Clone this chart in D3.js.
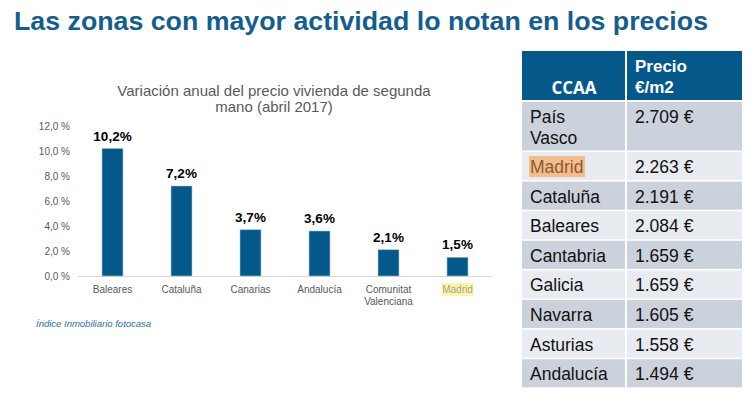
<!DOCTYPE html>
<html><head><meta charset="utf-8">
<script src="https://cdn.jsdelivr.net/npm/d3@7"></script>
<style>
html,body{margin:0;padding:0;background:#fff;}
svg{display:block;}
</style></head>
<body>
<svg id="c" width="749" height="395"></svg>
<script>
// ---- data ----
const title = "Las zonas con mayor actividad lo notan en los precios";
const chartTitle = ["Variación anual del precio vivienda de segunda", "mano (abril 2017)"];
const categories = ["Baleares", "Cataluña", "Canarias", "Andalucía", "Comunitat Valenciana", "Madrid"];
const values = [10.2, 7.2, 3.7, 3.6, 2.1, 1.5];
const yTicks = [0, 2, 4, 6, 8, 10, 12];
const source = "Índice Inmobiliario fotocasa";
const tableHeader = ["CCAA", "Precio €/m2"];
const tableRegions = ["País Vasco", "Madrid", "Cataluña", "Baleares", "Cantabria", "Galicia", "Navarra", "Asturias", "Andalucía"];
const tablePrices = [2709, 2263, 2191, 2084, 1659, 1659, 1605, 1558, 1494];

const svg = d3.select("#c");
const blue = "#04598a";
const fmtPct = v => v.toFixed(1).replace(".", ",");
const sans = "'Liberation Sans',Arial,sans-serif";

// Title
svg.append("text").attr("x", 14).attr("y", 30)
  .attr("font-family", "'Liberation Sans Narrow','Arial Narrow','Liberation Sans',Arial,sans-serif")
  .attr("font-weight", "bold").attr("font-size", 25).attr("fill", "#135e8e")
  .attr("textLength", 694).attr("lengthAdjust", "spacingAndGlyphs")
  .text(title);

// Chart title
const ct = svg.append("text").attr("font-family", sans)
  .attr("font-size", 15).attr("fill", "#595959").attr("text-anchor", "middle");
chartTitle.forEach((t, i) => ct.append("tspan").attr("x", 274).attr("y", 96 + i * 16).text(t));

// Scales
const x = d3.scaleBand().domain(categories).range([78, 492]).paddingInner(0.696).paddingOuter(0.348);
const y = d3.scaleLinear().domain([0, 12]).range([276, 126]);

// Y axis labels
const yAxis = svg.append("g").attr("transform", "translate(70,0)")
  .call(d3.axisLeft(y).tickValues(yTicks).tickSize(0).tickPadding(0).tickFormat(d => fmtPct(d) + " %"));
yAxis.select(".domain").remove();
yAxis.selectAll("text").attr("font-family", sans).attr("font-size", 10).attr("fill", "#595959");

// Baseline
svg.append("line").attr("x1", 78).attr("x2", 492).attr("y1", y(0) + 0.5).attr("y2", y(0) + 0.5)
  .attr("stroke", "#d9d9d9").attr("stroke-width", 1);

// Bars
svg.selectAll("rect.bar").data(values).join("rect").attr("class", "bar")
  .attr("x", (d, i) => x(categories[i])).attr("width", x.bandwidth())
  .attr("y", d => y(d)).attr("height", d => y(0) - y(d))
  .attr("fill", blue).attr("stroke", "#9fc3d8").attr("stroke-width", 0.6);

// Value labels
svg.selectAll("text.val").data(values).join("text").attr("class", "val")
  .attr("x", (d, i) => x(categories[i]) + x.bandwidth() / 2).attr("y", d => y(d) - 8)
  .attr("text-anchor", "middle").attr("font-family", sans)
  .attr("font-weight", "bold").attr("font-size", 13.5).attr("fill", "#000")
  .text(d => fmtPct(d) + "%");

// Category labels
const xAxis = svg.append("g").attr("transform", `translate(0,${y(0)})`)
  .call(d3.axisBottom(x).tickSize(0).tickPadding(0).tickFormat(""));
xAxis.select(".domain").remove();
categories.forEach((c, i) => {
  const cx = x(c) + x.bandwidth() / 2;
  const words = c === "Comunitat Valenciana" ? c.split(" ") : [c];
  if (c === "Madrid") {
    svg.append("rect").attr("x", cx - 16).attr("y", 283).attr("width", 32).attr("height", 13).attr("fill", "#fbf7a0");
  }
  const t = svg.append("text").attr("text-anchor", "middle")
    .attr("font-family", sans).attr("font-size", 10)
    .attr("fill", c === "Madrid" ? "#a0a0a0" : "#595959");
  words.forEach((w, j) => t.append("tspan").attr("x", cx).attr("y", 293 + j * 12).text(w));
});

// Source
svg.append("text").attr("x", 36).attr("y", 327)
  .attr("font-family", sans).attr("font-size", 9.5)
  .attr("font-style", "italic").attr("fill", "#2a72a6").text(source);

// ---- Table ----
const tx0 = 522, tx1 = 626, tx2 = 742;
const headTop = 51, headBot = 100;
svg.append("rect").attr("x", tx0).attr("y", headTop).attr("width", tx1 - tx0 - 1).attr("height", headBot - headTop).attr("fill", blue);
svg.append("rect").attr("x", tx1 + 1).attr("y", headTop).attr("width", tx2 - tx1 - 1).attr("height", headBot - headTop).attr("fill", blue);
svg.append("text").attr("x", (tx0 + tx1) / 2).attr("y", 94).attr("text-anchor", "middle")
  .attr("font-family", "'Open Sans','Liberation Sans',sans-serif").attr("font-weight", "bold")
  .attr("font-size", 17).attr("fill", "#fff").text(tableHeader[0]);
const ph = svg.append("text").attr("font-family", sans)
  .attr("font-weight", "bold").attr("font-size", 17).attr("fill", "#fff");
tableHeader[1].split(" ").forEach((w, j) => ph.append("tspan").attr("x", 635).attr("y", 72 + j * 21).text(w));

const regionLines = tableRegions.map(r => r === "País Vasco" ? r.split(" ") : [r]);
const rowH = regionLines.map(l => l.length === 1 ? 29.6 : 50);
let acc = headBot + 2;
const rowY = rowH.map(h => { const v = acc; acc += h; return v; });
const fmtPrice = d => d3.format(",")(d).replace(",", ".") + " €";

tableRegions.forEach((r, i) => {
  const fill = i % 2 === 0 ? "#cbd2dc" : "#e8ebef";
  const top = rowY[i], h = rowH[i] - 1.5;
  svg.append("rect").attr("x", tx0).attr("y", top).attr("width", tx1 - tx0 - 1).attr("height", h).attr("fill", fill);
  svg.append("rect").attr("x", tx1 + 1).attr("y", top).attr("width", tx2 - tx1 - 1).attr("height", h).attr("fill", fill);
  if (r === "Madrid") {
    svg.append("rect").attr("x", 529).attr("y", top + 4).attr("width", 56).attr("height", 21).attr("fill", "#f3bd8c");
  }
  const t = svg.append("text").attr("font-family", sans)
    .attr("font-size", 17.5).attr("fill", r === "Madrid" ? "#8a5a2c" : "#111");
  regionLines[i].forEach((w, j) => t.append("tspan").attr("x", 530).attr("y", top + 21 + j * 21).text(w));
  svg.append("text").attr("x", 635).attr("y", top + 21)
    .attr("font-family", sans).attr("font-size", 17.5).attr("fill", "#111")
    .text(fmtPrice(tablePrices[i]));
});
</script>
</body></html>
